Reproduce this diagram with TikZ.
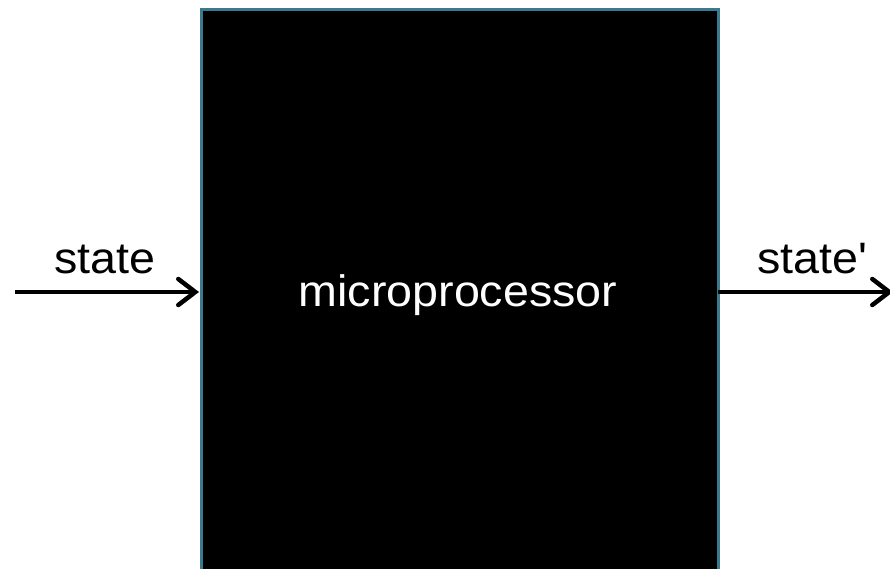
\documentclass[tikz,border=0pt]{standalone}
\usepackage{fontspec}
\setmainfont{Liberation Sans}[Ligatures=TeXOff]
\usetikzlibrary{arrows.meta}
\definecolor{edgeteal}{HTML}{3A7A8C}
\begin{document}
\begin{tikzpicture}[x=1pt,y=-1pt,
  cpubox/.style={draw=edgeteal, line width=3pt, fill=black},
  signal/.style={line width=4.5pt, -{Straight Barb[length=17pt,width=26pt,line cap=round]}},
  lbl/.style={anchor=base, inner sep=0pt, font=\fontsize{44}{48}\selectfont, xscale=1.06}]
  \useasboundingbox (0,0) rectangle (890,569);
  % processor block, running past the lower edge
  \draw[cpubox] (201,10) rectangle (718,600);
  \node[lbl, text=white] (cpu) at (458,306) {microprocessor};
  % input and output signals
  \coordinate (in) at (15,292);
  \coordinate (cpuin) at (199,292);
  \coordinate (cpuout) at (718,292);
  \coordinate (out) at (893,292);
  \draw[signal] (in) -- (cpuin);
  \draw[signal] (cpuout) -- (out);
  \node[lbl] (instate) at (105,273) {state};
  \node[lbl] (outstate) at (812,273) {state'};
\end{tikzpicture}
\end{document}
